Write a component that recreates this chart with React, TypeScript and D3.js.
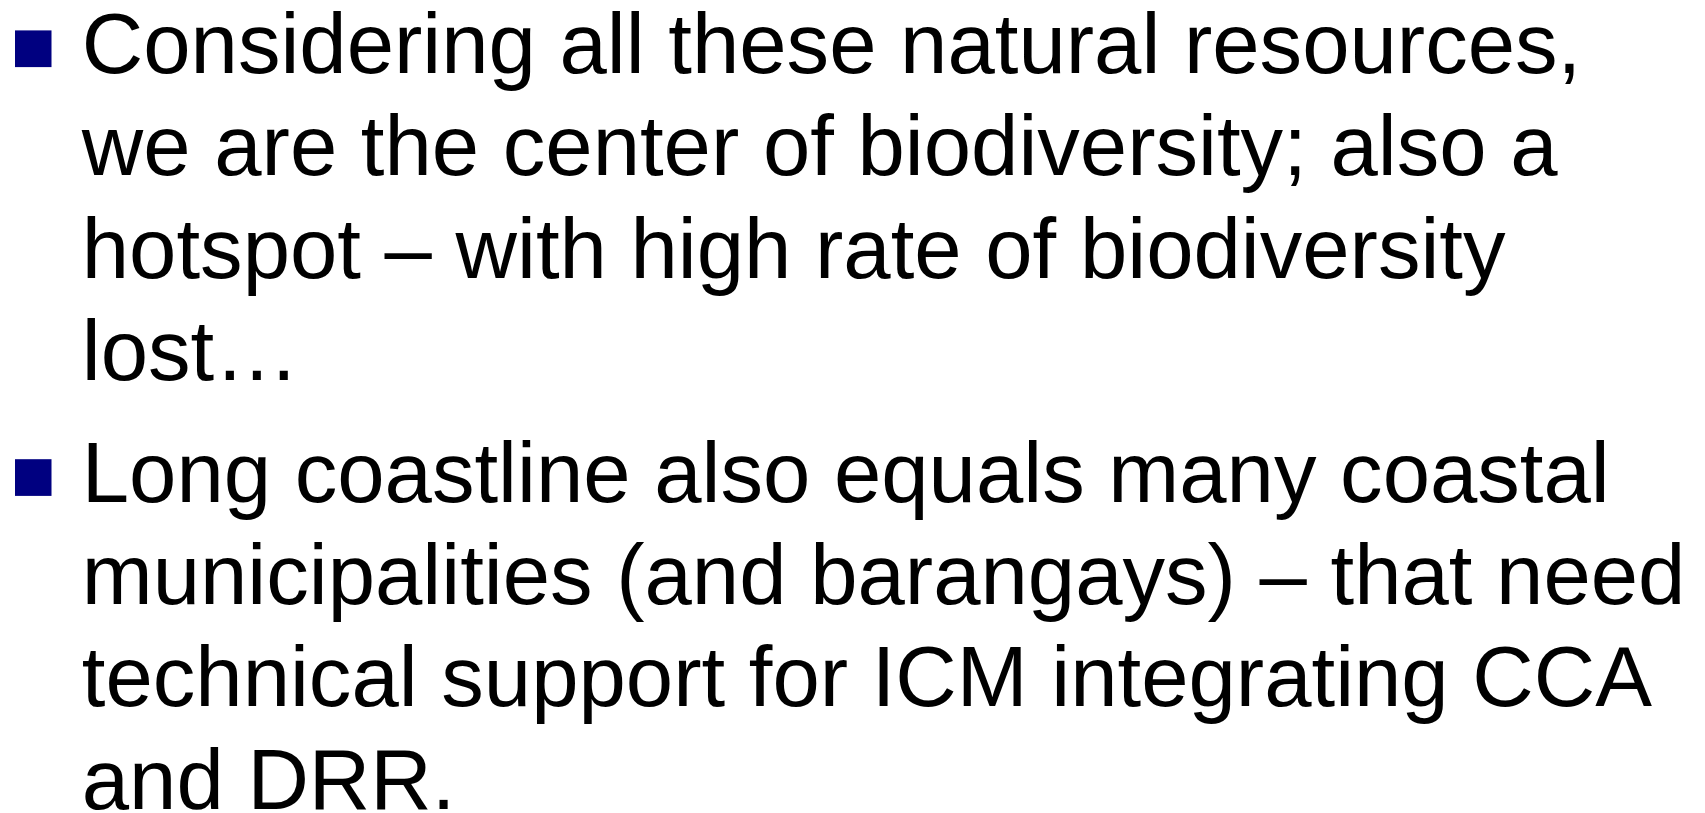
import React, { useEffect } from 'react';
import * as d3 from 'd3';

// slide content: each bullet is a list of wrapped lines
const bullet1 = [
  'Considering all these natural resources,',
  'we are the center of biodiversity; also a',
  'hotspot \u2013 with high rate of biodiversity',
  'lost\u2026',
];
const bullet2 = [
  'Long coastline also equals many coastal',
  'municipalities (and barangays) \u2013 that need',
  'technical support for ICM integrating CCA',
  'and DRR.',
];
const bullets = [bullet1, bullet2];
const paragraphStarts = [72.7, 501.5];

const App = () => {
  useEffect(() => {
    document.body.style.margin = '0';
  }, []);

  const width = 1705;
  const height = 813;
  const lineHeight = 102.4;
  const fontSize = 85.1;
  const textX = 81.8;

  // baseline of line i within a paragraph
  const lineY = d3.scaleLinear().domain([0, 1]).range([0, lineHeight]);

  return (
    <svg width={width} height={height} style={{ display: 'block', background: '#fff' }}>
      {bullets.map((lines, p) => {
        const y0 = paragraphStarts[p];
        return (
          <g key={p}>
            <rect x={15} y={y0 - 42.3} width={36.5} height={36.7} fill="#000080" />
            {lines.map((line, i) => (
              <text
                key={i}
                x={textX}
                y={y0 + lineY(i)}
                fontFamily="'Liberation Sans', Arial, sans-serif"
                fontSize={fontSize}
                fill="#000"
              >
                {line}
              </text>
            ))}
          </g>
        );
      })}
    </svg>
  );
};

export default App;
